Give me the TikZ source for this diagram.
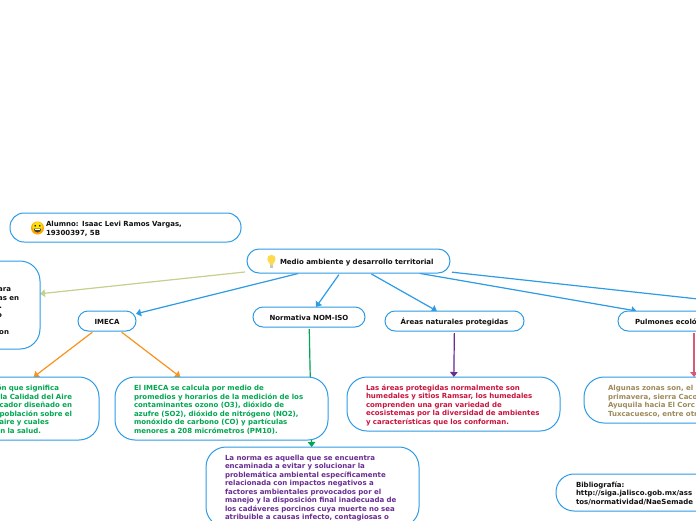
\documentclass[tikz,border=0pt]{standalone}
\usepackage{fontspec}
\setsansfont{DejaVu Sans}
\usetikzlibrary{arrows.meta, backgrounds}
\definecolor{cblue}{HTML}{2E9BE6}
\definecolor{corange}{HTML}{F7941D}
\definecolor{cgreen}{HTML}{00A651}
\definecolor{cpurple}{HTML}{6A2C91}
\definecolor{ccrimson}{HTML}{C8143C}
\definecolor{colive}{HTML}{C5D08F}
\definecolor{ctan}{HTML}{9C8A5A}
\definecolor{cink}{HTML}{111111}
\newcommand{\pad}[1]{\hspace*{#1pt}\mbox{}}
\tikzset{
  every picture/.style={x=1pt, y=-1pt, font=\sffamily\bfseries\fontsize{7}{8.5}\selectfont, text=cink},
  box/.style={draw=cblue, fill=white, line width=1pt, rounded corners=#1, align=left, outer sep=0pt, inner ysep=0pt, execute at begin node={\rule{0pt}{7.5pt}}},
  box/.default=10pt,
  arrow/.style={-{Triangle[length=5pt, width=7.5pt]}, draw=#1, fill=#1, line width=1.2pt, shorten <=2pt},
  arrow/.default=cblue,
}
\begin{document}
\begin{tikzpicture}
  \useasboundingbox (0,0) rectangle (696,520);
  \clip (0,0) rectangle (696,520);
  % top level
  \node[box=14pt, minimum width=231pt, minimum height=29pt, text width=159pt, inner xsep=36pt] (alumno) at (125.5,227.5) {Alumno: Isaac Levi Ramos Vargas,\\19300397, 5B};
  \node[box=12pt, minimum width=203pt, minimum height=24pt, text width=179pt, inner xsep=12pt] (central) at (348.5,261) {\hspace*{21pt}Medio ambiente y desarrollo territorial};
  \node[box=20pt, minimum width=213pt, minimum height=88pt, text width=171pt, inner xsep=21pt, align=right] (resumen) at (-66.5,305) {\mbox{}\\\mbox{}\\ara\pad{8}\\as en\\.\pad{17}\\o\pad{17}\\\mbox{}\\on\pad{10}\\\mbox{}};
  % second level
  \node[box, minimum width=58pt, minimum height=20pt, align=center] (imeca) at (107,321) {IMECA};
  \node[box, minimum width=112pt, minimum height=20pt, align=center] (normativa) at (309,317) {Normativa NOM-ISO};
  \node[box, minimum width=139pt, minimum height=20pt, align=center] (areas) at (454.5,321) {Áreas naturales protegidas};
  \node[box, minimum width=152pt, minimum height=20pt, text width=118pt, inner xsep=17pt] (pulmones) at (694,321) {Pulmones ecoló};
  \coordinate (fuera) at (900,321);
  % text boxes
  \node[box=20pt, minimum width=213pt, minimum height=63pt, text width=159pt, inner xsep=27pt, align=right, text=cgreen] (indice) at (-7.5,408.5) {ón que significa\pad{13}\\la Calidad del Aire\\cador diseñado en\\población sobre el\\aire y cuales\pad{23}\\en la salud.\pad{31}};
  \node[box=20pt, minimum width=213pt, minimum height=63pt, text width=175pt, inner xsep=19pt, text=cgreen] (calculo) at (221.5,408.5) {El IMECA se calcula por medio de\\promedios y horarios de la medición de los\\contaminantes ozono (O3), dióxido de\\azufre (SO2), dióxido de nitrógeno (NO2),\\monóxido de carbono (CO) y partículas\\menores a 208 micrómetros (PM10).};
  \node[box=20pt, minimum width=213pt, minimum height=54pt, text width=175pt, inner xsep=19pt, text=ccrimson] (humedales) at (453.5,404) {Las áreas protegidas normalmente son\\humedales y sitios Ramsar, los humedales\\comprenden una gran variedad de\\ecosistemas por la diversidad de ambientes\\y características que los conforman.};
  \node[box=20pt, minimum width=220pt, minimum height=46pt, text width=172pt, inner xsep=24pt, text=ctan] (zonas) at (694,400) {Algunas zonas son, el\\primavera, sierra Caco\\Ayuquila hacia El Corc\\Tuxcacuesco, entre otr};
  \node[box=20pt, minimum width=213pt, minimum height=80pt, text width=175pt, inner xsep=19pt, text=cpurple] (norma) at (312.5,487) {La norma es aquella que se encuentra\\encaminada a evitar y solucionar la\\problemática ambiental específicamente\\relacionada con impactos negativos a\\factores ambientales provocados por el\\manejo y la disposición final inadecuada de\\los cadáveres porcinos cuya muerte no sea\\atribuible a causas infecto, contagiosas o};
  \node[box=18pt, minimum width=213pt, minimum height=37pt, text width=173pt, inner xsep=20pt] (biblio) at (662.5,492.5) {Bibliografía:\\http://siga.jalisco.gob.mx/ass\\tos/normatividad/NaeSemade};
  % connectors
  \begin{scope}[on background layer]
    \foreach \a/\b in {central/imeca,central/normativa,central/areas,central/pulmones} \draw[arrow] (\a) -- (\b);
    \draw[cblue, line width=1.2pt, shorten <=2pt] (central) -- (fuera);
    \draw[arrow=colive] (central) -- (resumen);
    \foreach \b in {indice,calculo} \draw[arrow=corange] (imeca) -- (\b);
    \draw[arrow=cgreen] (normativa) -- (norma);
    \draw[arrow=cpurple] (areas) -- (humedales);
    \draw[arrow=ccrimson!70] (pulmones) -- (zonas);
  \end{scope}
  % smiley
  \fill[orange!70!yellow] (37.5,228) circle (6.5);
  \fill[yellow!85!orange] (37.5,227) circle (5.2);
  \fill[cink] (35.2,225.8) circle (0.9) (39.8,225.8) circle (0.9);
  \fill[cink!80] (33.6,228.6) -- (41.4,228.6) arc[start angle=0, end angle=180, radius=3.9] -- cycle;
  \fill[white] (34.6,229) rectangle (40.4,230.2);
  % bulb
  \fill[yellow!65!orange!70] (271.5,259) circle (4.2);
  \fill[yellow!65!orange!70] (268.7,261) -- (274.3,261) -- (273,265) -- (270,265) -- cycle;
  \fill[gray!45] (269.7,265) rectangle (273.3,268);
\end{tikzpicture}
\end{document}
